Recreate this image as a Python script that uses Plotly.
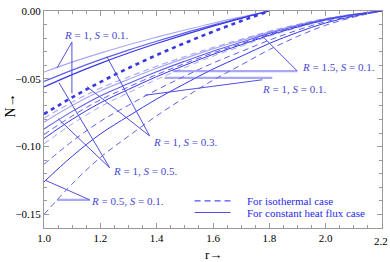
import plotly.graph_objects as go

# ---------------- data ----------------
r_short = [1.0, 1.1, 1.2, 1.3, 1.4, 1.5, 1.6, 1.7, 1.8]
r_long = [1.0, 1.1, 1.2, 1.3, 1.4, 1.5, 1.6, 1.7, 1.8, 1.9, 2.0, 2.1, 2.2]

# curves ending at r = 1.8
A1 = [-0.045, -0.0377, -0.0311, -0.0249, -0.0193, -0.0140, -0.0090, -0.0044, 0.0]
A2 = [-0.052, -0.0436, -0.0359, -0.0288, -0.0223, -0.0161, -0.0104, -0.0050, 0.0]
A3 = [-0.056, -0.0469, -0.0386, -0.0310, -0.0240, -0.0174, -0.0112, -0.0054, 0.0]
A4 = [-0.076, -0.0637, -0.0524, -0.0421, -0.0325, -0.0236, -0.0152, -0.0074, 0.0]

# curves ending at r = 2.2
B1 = [-0.079, -0.0672, -0.0569, -0.0486, -0.0407, -0.0336, -0.0269, -0.0209, -0.0150, -0.0099, -0.0055, -0.0024, 0.0]
B2 = [-0.082, -0.0697, -0.0590, -0.0504, -0.0422, -0.0349, -0.0279, -0.0217, -0.0156, -0.0103, -0.0057, -0.0025, 0.0]
B3 = [-0.087, -0.0740, -0.0626, -0.0535, -0.0448, -0.0370, -0.0296, -0.0231, -0.0165, -0.0109, -0.0061, -0.0026, 0.0]
B4 = [-0.091, -0.0774, -0.0655, -0.0560, -0.0469, -0.0387, -0.0309, -0.0241, -0.0173, -0.0114, -0.0064, -0.0027, 0.0]
B5 = [-0.094, -0.0799, -0.0677, -0.0578, -0.0484, -0.0400, -0.0320, -0.0249, -0.0179, -0.0118, -0.0066, -0.0028, 0.0]
B6 = [-0.098, -0.0833, -0.0706, -0.0603, -0.0505, -0.0417, -0.0333, -0.0260, -0.0186, -0.0123, -0.0069, -0.0029, 0.0]
B7 = [-0.113, -0.0961, -0.0814, -0.0695, -0.0582, -0.0480, -0.0384, -0.0299, -0.0215, -0.0141, -0.0079, -0.0034, 0.0]
B8 = [-0.126, -0.1071, -0.0907, -0.0775, -0.0649, -0.0536, -0.0428, -0.0334, -0.0239, -0.0158, -0.0088, -0.0038, 0.0]
B9 = [-0.150, -0.1275, -0.1080, -0.0923, -0.0773, -0.0638, -0.0510, -0.0398, -0.0285, -0.0188, -0.0105, -0.0045, 0.0]

x_ticks = [1.0, 1.2, 1.4, 1.6, 1.8, 2.0, 2.2]
y_ticks = [0.0, -0.05, -0.10, -0.15]

legend_labels = ["For isothermal case", "For constant heat flux case"]

# ---------------- styles ----------------
LIGHT = "rgba(95,95,240,0.55)"
MID = "rgb(95,95,235)"
DARK = "rgb(55,55,228)"
DASH = "6px,4px"

series = [
    (r_short, A1, LIGHT, 1.2, "solid"),
    (r_short, A2, MID, 1.2, "solid"),
    (r_short, A3, DARK, 1.2, "solid"),
    (r_short, A4, DARK, 2.6, "4px,4px"),
    (r_long, B1, LIGHT, 1.1, DASH),
    (r_long, B2, LIGHT, 1.2, "solid"),
    (r_long, B3, MID, 1.1, "solid"),
    (r_long, B4, MID, 1.0, DASH),
    (r_long, B5, DARK, 1.0, "solid"),
    (r_long, B6, LIGHT, 1.0, DASH),
    (r_long, B7, MID, 1.0, DASH),
    (r_long, B8, DARK, 1.0, "solid"),
    (r_long, B9, MID, 1.0, DASH),
]

fig = go.Figure()
for xs, ys, col, w, dash in series:
    fig.add_trace(go.Scatter(x=xs, y=ys, mode="lines",
                             line=dict(color=col, width=w, dash=dash, shape="spline", smoothing=1.0),
                             showlegend=False, hoverinfo="skip"))

SERIF = "Liberation Serif, Times New Roman, serif"
LBL = "rgb(70,70,210)"

def px2d(px, py):
    return 1.0 + (px - 44) / 282.5, -(py - 5) / 1400.0

shapes = []
def leader(p0, p1, color="rgb(80,80,220)", width=1.0):
    x0, y0 = px2d(*p0)
    x1, y1 = px2d(*p1)
    shapes.append(dict(type="line", xref="x", yref="y", x0=x0, y0=y0, x1=x1, y1=y1,
                       line=dict(color=color, width=width)))

BAR = "rgba(110,110,240,0.6)"
# R=1, S=0.1 (top)
leader((72, 37), (57, 64))
leader((72, 37), (72, 90))
# R=1.5, S=0.1
leader((298, 67), (173, 67), BAR, 2.2)
leader((298, 67), (265, 33))
# R=1, S=0.1 (right)
leader((273, 74), (165, 74), BAR, 2.2)
leader((263, 76), (145, 92))
# R=1, S=0.3
leader((150, 134), (107, 52))
leader((150, 134), (87, 83))
# R=1, S=0.5
leader((110, 167), (59, 79))
leader((110, 167), (58, 116))
# R=0.5, S=0.1
leader((90, 200), (46, 180))
leader((90, 200), (57, 200), BAR, 2.2)

# legend samples
lx0, ly0 = px2d(195, 201)
lx1, ly1 = px2d(231, 213)
shapes.append(dict(type="line", xref="x", yref="y", x0=lx0, x1=lx1, y0=ly0, y1=ly0,
                   line=dict(color="rgb(80,80,235)", width=1.2, dash="6px,4px")))
shapes.append(dict(type="line", xref="x", yref="y", x0=lx0, x1=lx1, y0=ly1, y1=ly1,
                   line=dict(color="rgb(80,80,235)", width=1.2)))

annotations = []
def label(text, px, py, anchor="center"):
    x, y = px2d(px, py)
    annotations.append(dict(x=x, y=y, xref="x", yref="y", text=text, showarrow=False,
                            xanchor=anchor, yanchor="middle",
                            font=dict(family=SERIF, size=11, color=LBL)))

label("<i>R</i> = 1, <i>S</i> = 0.1.", 96, 30)
label("<i>R</i> = 1.5, <i>S</i> = 0.1.", 339, 63)
label("<i>R</i> = 1, <i>S</i> = 0.1.", 295, 85)
label("<i>R</i> = 1, <i>S</i> = 0.3.", 185, 140)
label("<i>R</i> = 1, <i>S</i> = 0.5.", 145, 170)
label("<i>R</i> = 0.5, <i>S</i> = 0.1.", 128, 201)

for i, t in enumerate(legend_labels):
    x, y = px2d(246, 201 + 12 * i)
    annotations.append(dict(x=x, y=y, xref="x", yref="y", text=t, showarrow=False,
                            xanchor="left", yanchor="middle",
                            font=dict(family=SERIF, size=11, color="rgb(40,40,235)")))

# last x tick label kept inside the page
annotations.append(dict(x=1, y=0, xref="paper", yref="paper", text="2.2", showarrow=False,
                        xanchor="right", yanchor="top", xshift=8, yshift=-5,
                        font=dict(family=SERIF, size=11, color="black")))

annotations.append(dict(x=0.5, y=0, xref="paper", yref="paper", text="r→", showarrow=False,
                        xanchor="center", yanchor="middle", yshift=-26,
                        font=dict(family=SERIF, size=13, color="black")))
annotations.append(dict(x=0, y=0.5625, xref="paper", yref="paper", text="N→", showarrow=False,
                        xanchor="right", yanchor="middle", xshift=-24, textangle=-90,
                        font=dict(family=SERIF, size=14, color="black")))

AX = "#9a9a9a"
fig.update_layout(
    width=390, height=262,
    margin=dict(l=44, r=8, t=5, b=34),
    paper_bgcolor="white", plot_bgcolor="white",
    shapes=shapes, annotations=annotations,
    xaxis=dict(range=[1.0, 2.2], tickvals=x_ticks,
               ticktext=[f"{v:.1f}" if v < 2.15 else "" for v in x_ticks],
               ticks="inside", ticklen=5, tickcolor=AX, showline=True, linecolor=AX, linewidth=1,
               mirror="ticks", showgrid=False, zeroline=False,
               tickfont=dict(family=SERIF, size=11, color="black"),
               minor=dict(ticks="inside", dtick=0.05, ticklen=3, tickcolor=AX, showgrid=False)),
    yaxis=dict(range=[-0.16, 0.0], tickvals=y_ticks,
               ticktext=["0.00", "−0.05", "−0.10", "−0.15"],
               ticklabeloverflow="allow",
               ticks="inside", ticklen=5, tickcolor=AX, showline=True, linecolor=AX, linewidth=1,
               mirror="ticks", showgrid=False, zeroline=False,
               tickfont=dict(family=SERIF, size=11, color="black"),
               minor=dict(ticks="inside", dtick=0.01, tick0=0, ticklen=3, tickcolor=AX, showgrid=False)),
)

fig.write_html("out.html", config={"displayModeBar": False},
               post_script="document.body.style.margin='0';document.body.style.overflow='hidden';")
